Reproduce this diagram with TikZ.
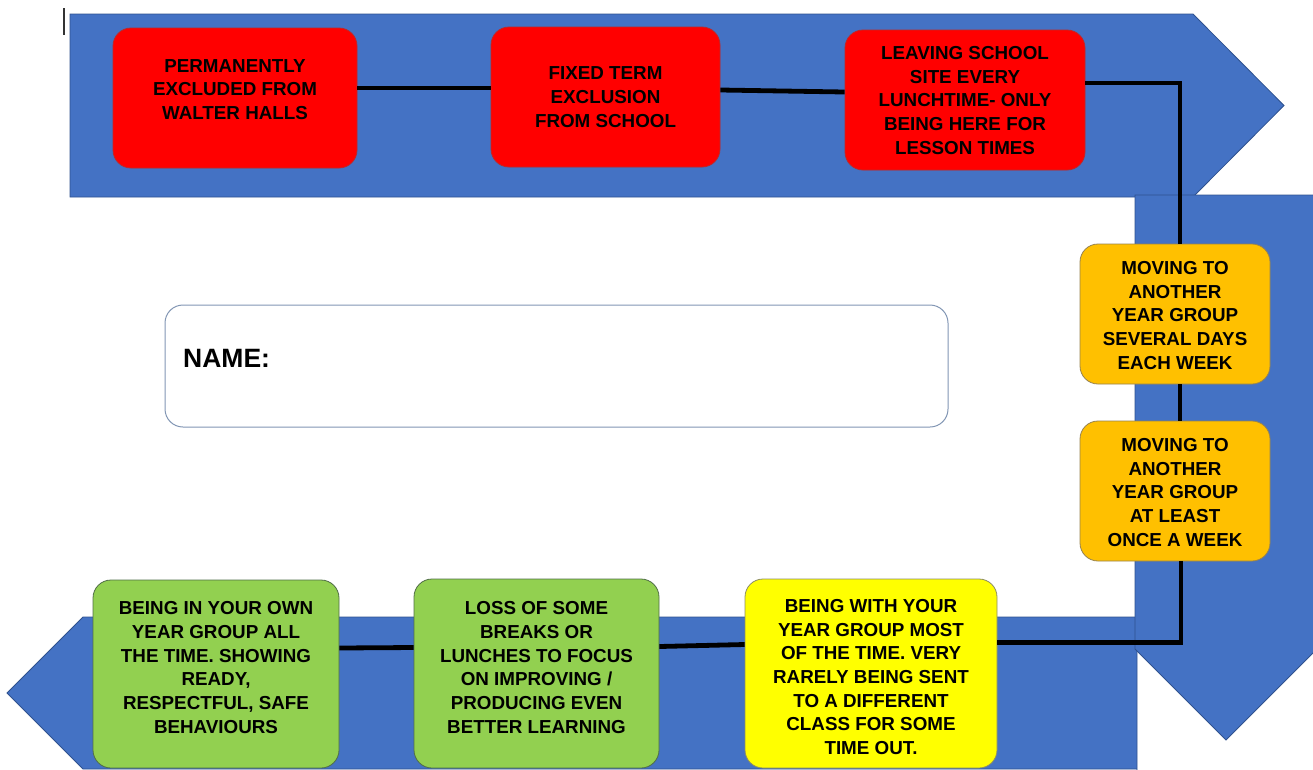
\documentclass[tikz,border=0pt]{standalone}
\usepackage{fontspec}
\setmainfont{Liberation Sans}
\definecolor{arrowblue}{HTML}{4472C4}
\definecolor{arrowedge}{HTML}{2F528F}
\definecolor{stRed}{HTML}{FF0000}
\definecolor{stRedEdge}{RGB}{190,40,40}
\definecolor{stOrange}{HTML}{FFC000}
\definecolor{stOrangeEdge}{RGB}{150,130,80}
\definecolor{stYellow}{HTML}{FFFF00}
\definecolor{stYellowEdge}{RGB}{140,140,100}
\definecolor{stGreen}{HTML}{92D050}
\definecolor{stGreenEdge}{RGB}{80,110,70}
\definecolor{nameEdge}{RGB}{130,150,180}
\begin{document}
\begin{tikzpicture}[x=1pt,y=-1pt,
  bluearrow/.style={fill=arrowblue, draw=arrowedge, line width=0.8pt},
  stage/.style={rounded corners=18pt, line width=0.8pt, inner sep=0pt},
  redbox/.style={stage, fill=stRed, draw=stRedEdge},
  orangebox/.style={stage, fill=stOrange, draw=stOrangeEdge},
  yellowbox/.style={stage, fill=stYellow, draw=stYellowEdge},
  greenbox/.style={stage, fill=stGreen, draw=stGreenEdge},
  stagetext/.style={font=\fontsize{18.8}{23.7}\selectfont\bfseries, align=center, inner sep=0pt, text=black},
  conn/.style={line width=4.8pt, draw=black}
]
\useasboundingbox (0,0) rectangle (1313,769);
\clip (0,0) rectangle (1313,769);

% blue arrows
\draw[bluearrow] (70,14) -- (1193,14) -- (1284,105.5) -- (1193,197) -- (70,197) -- cycle;
\draw[bluearrow] (1137,617) -- (83,617) -- (7,693) -- (83,769) -- (1137,769) -- (1137,780) -- cycle;
\draw[bluearrow] (1135,195) -- (1317,195) -- (1317,649) -- (1226,740) -- (1135,649) -- cycle;

% cursor mark
\draw[line width=1.2pt, black!80] (64,8) -- (64,35);

% stage boxes
\node[redbox, minimum width=244pt, minimum height=140pt] (r1) at (235,98) {};
\node[redbox, minimum width=229pt, minimum height=140pt] (r2) at (605.5,97) {};
\node[redbox, minimum width=240pt, minimum height=140pt] (r3) at (965,100) {};
\node[orangebox, minimum width=190pt, minimum height=140pt] (o1) at (1175,314) {};
\node[orangebox, minimum width=190pt, minimum height=140pt] (o2) at (1175,491) {};
\node[yellowbox, minimum width=252pt, minimum height=189pt] (y1) at (871,673.5) {};
\node[greenbox, minimum width=245pt, minimum height=189pt] (g2) at (536.5,673.5) {};
\node[greenbox, minimum width=246pt, minimum height=188pt] (g1) at (216,674) {};

% connectors
\draw[conn] ([yshift=10pt]r1.east) -- ([yshift=9pt]r2.west);
\draw[conn] ([yshift=7pt]r2.east) -- ([yshift=8pt]r3.west);
\draw[conn] ([yshift=17pt]r3.east) -| ([xshift=5pt]o1.north);
\draw[conn] ([xshift=5pt]o1.south) -- ([xshift=5pt]o2.north);
\draw[conn] ([xshift=6pt]o2.south) |- ([yshift=31pt]y1.east);
\draw[conn] ([yshift=29pt]y1.west) -- ([yshift=27pt]g2.east);
\draw[conn] ([yshift=26pt]g2.west) -- ([yshift=26pt]g1.east);

% texts
\node[stagetext] (t1) at (235,89.5) {PERMANENTLY\\EXCLUDED FROM\\WALTER HALLS};
\node[stagetext] (t2) at (605.5,97) {FIXED TERM\\EXCLUSION\\FROM SCHOOL};
\node[stagetext] (t3) at (965,100.5) {LEAVING SCHOOL\\SITE EVERY\\LUNCHTIME- ONLY\\BEING HERE FOR\\LESSON TIMES};
\node[stagetext] (t4) at (1175,315.5) {MOVING TO\\ANOTHER\\YEAR GROUP\\SEVERAL DAYS\\EACH WEEK};
\node[stagetext] (t5) at (1175,492.5) {MOVING TO\\ANOTHER\\YEAR GROUP\\AT LEAST\\ONCE A WEEK};
\node[stagetext] (t6) at (871,677) {BEING WITH YOUR\\YEAR GROUP MOST\\OF THE TIME. VERY\\RARELY BEING SENT\\TO A DIFFERENT\\CLASS FOR SOME\\TIME OUT.};
\node[stagetext] (t7) at (536.5,667.5) {LOSS OF SOME\\BREAKS OR\\LUNCHES TO FOCUS\\ON IMPROVING /\\PRODUCING EVEN\\BETTER LEARNING};
\node[stagetext] (t8) at (216,667.5) {BEING IN YOUR OWN\\YEAR GROUP ALL\\THE TIME. SHOWING\\READY,\\RESPECTFUL, SAFE\\BEHAVIOURS};

% name box
\node[rounded corners=18pt, draw=nameEdge, fill=white, line width=1pt, minimum width=783pt, minimum height=122pt] (namebox) at (556.5,366) {};
\node[anchor=west, inner sep=0pt, font=\fontsize{26.5}{30}\selectfont\bfseries] (namelabel) at (183,358) {NAME:};
\end{tikzpicture}
\end{document}
